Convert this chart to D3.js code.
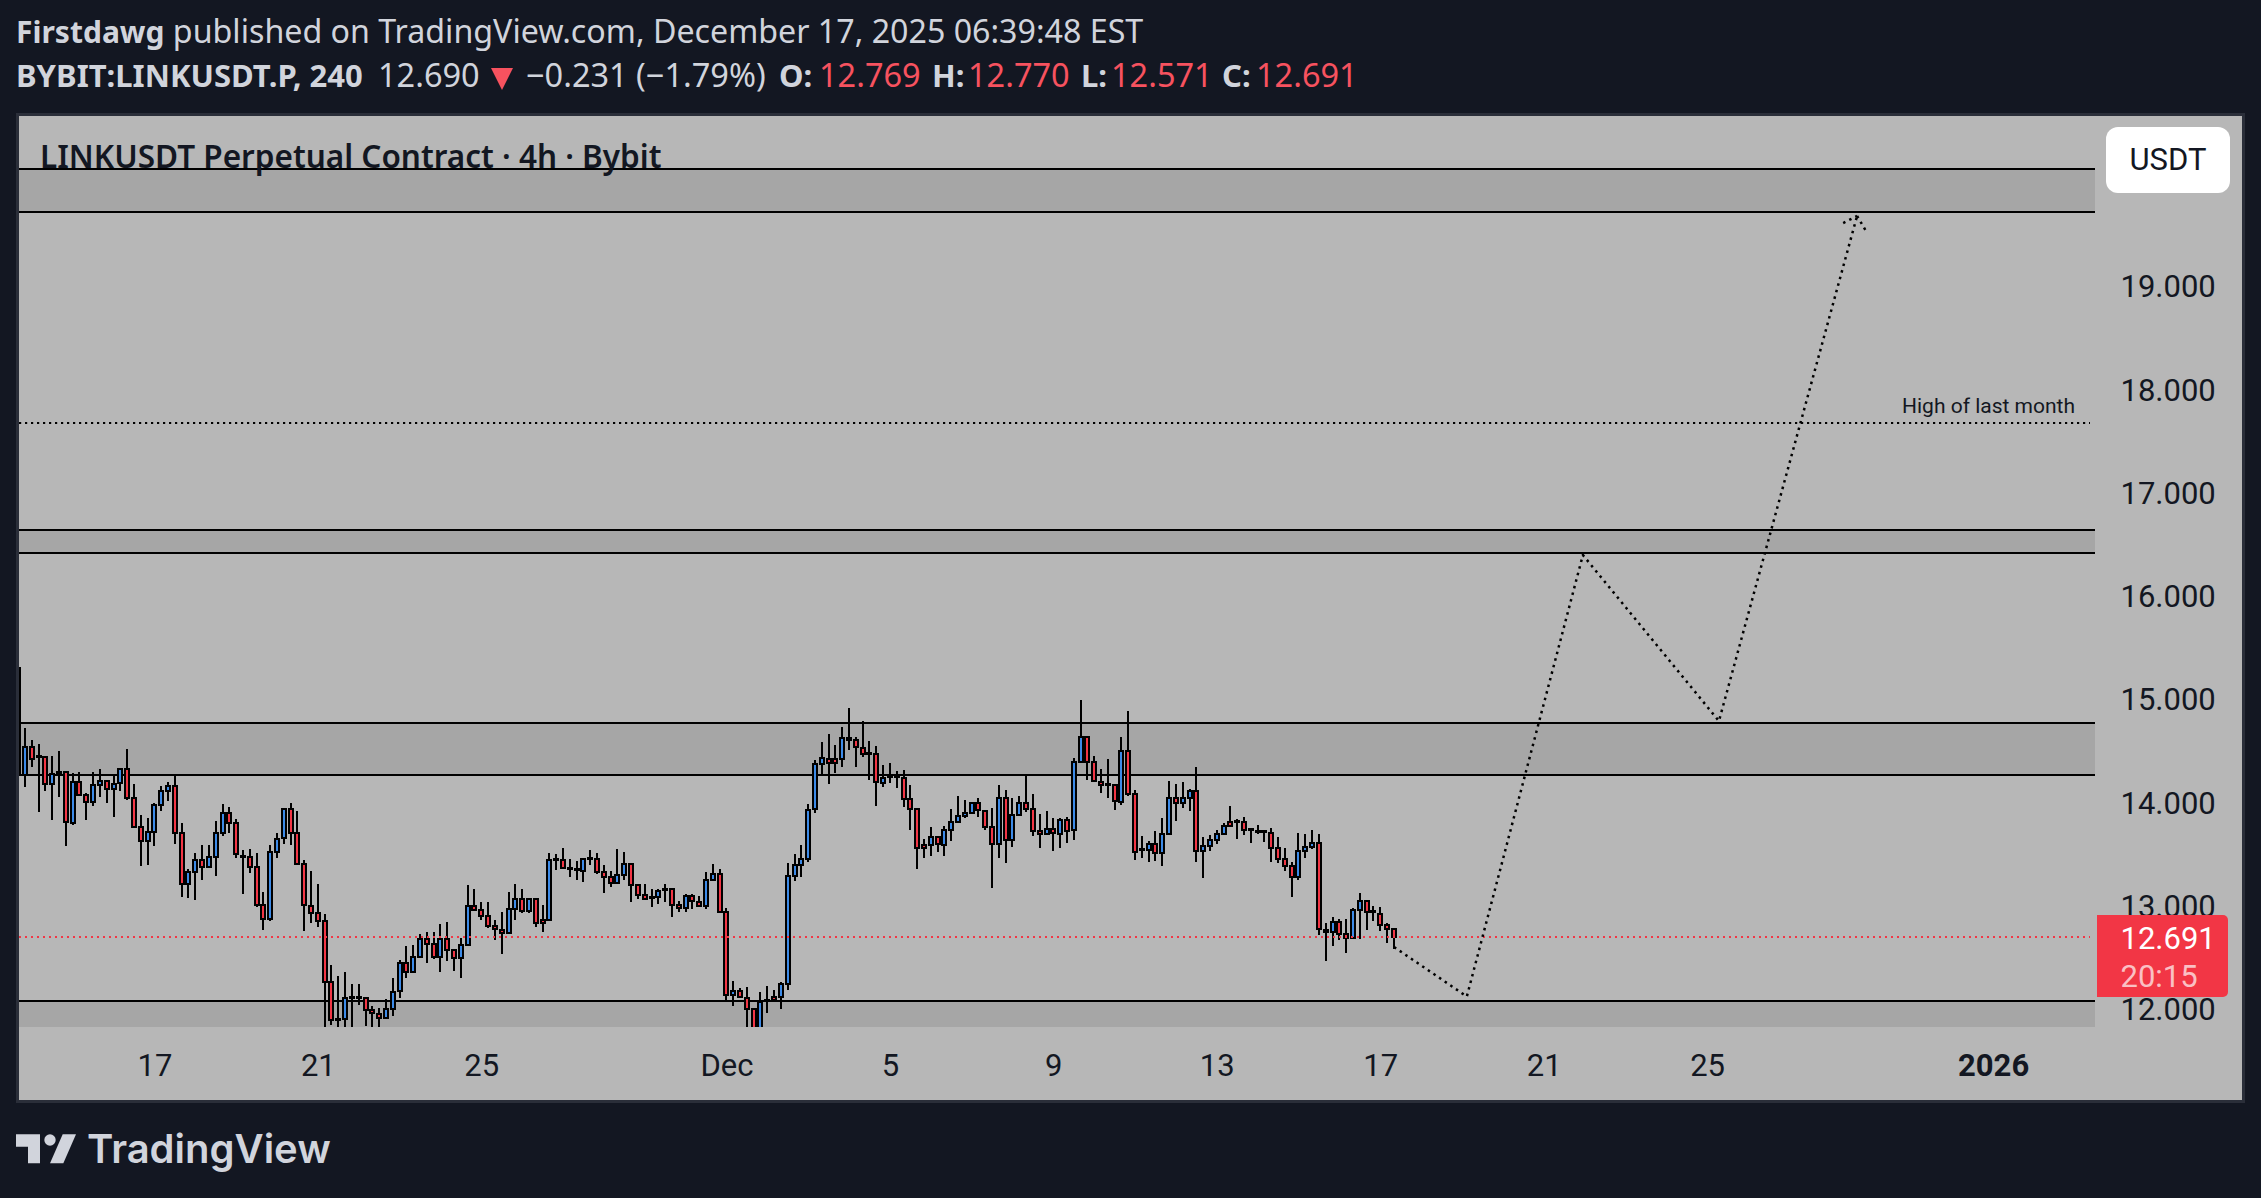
<!DOCTYPE html>
<html><head><meta charset="utf-8">
<script src="https://cdn.jsdelivr.net/npm/d3@7"></script>
<style>html,body{margin:0;padding:0;background:#131722}svg{display:block}</style>
</head><body><div id="c"></div>
<script>
const opens=[15.30,14.26,14.53,14.44,14.43,14.17,14.29,14.29,13.79,14.19,
14.07,14.00,14.16,14.20,14.12,14.18,14.32,14.04,13.76,13.62,
13.71,13.97,14.10,14.15,13.70,13.20,13.32,13.44,13.37,13.47,
13.70,13.89,13.79,13.48,13.47,13.37,13.00,12.87,13.51,13.65,
13.93,13.70,13.40,12.99,12.92,12.85,12.26,11.90,11.90,12.11,
12.11,12.10,11.98,11.95,11.91,11.99,12.17,12.44,12.35,12.50,
12.67,12.62,12.50,12.67,12.57,12.49,12.61,12.99,12.95,12.89,
12.80,12.76,12.73,12.96,13.06,12.94,13.06,12.86,12.86,13.45,
13.44,13.36,13.35,13.33,13.46,13.45,13.32,13.27,13.21,13.29,
13.40,13.19,13.10,13.08,13.08,13.16,13.16,13.00,12.97,13.09,
13.03,12.99,13.24,13.30,12.93,12.13,12.17,12.10,11.99,11.78,
12.08,12.11,12.11,12.24,13.28,13.39,13.45,13.93,14.37,14.41,
14.41,14.41,14.62,14.60,14.52,14.47,14.46,14.18,14.25,14.25,
14.23,14.03,13.93,13.58,13.58,13.66,13.58,13.73,13.80,13.86,
13.89,13.99,13.91,13.76,13.59,14.04,13.63,13.87,13.99,13.93,
13.72,13.69,13.74,13.69,13.82,13.73,14.39,14.63,14.39,14.19,
14.17,14.16,14.00,14.49,14.08,13.54,13.53,13.59,13.50,13.69,
14.04,13.99,14.04,14.10,13.52,13.57,13.63,13.69,13.80,13.81,
13.80,13.74,13.72,13.72,13.70,13.55,13.45,13.38,13.27,13.52,
13.56,13.60,12.76,12.74,12.84,12.72,12.68,12.95,13.04,12.94,
12.91,12.81,12.769];
const highs=[15.30,14.71,14.60,14.56,14.43,14.44,14.49,14.29,14.28,14.29,
14.09,14.29,14.32,14.21,14.26,14.32,14.51,14.17,13.87,13.84,
13.99,14.15,14.19,14.26,13.79,13.35,13.50,13.58,13.58,13.81,
13.98,13.95,13.83,13.53,13.54,13.50,13.13,13.58,13.70,13.93,
13.99,13.91,13.44,13.33,13.20,12.91,12.42,12.31,12.35,12.24,
12.24,12.11,12.02,12.00,12.09,12.29,12.47,12.60,12.61,12.72,
12.74,12.74,12.82,12.84,12.57,12.68,13.19,13.16,13.03,13.03,
12.86,12.93,13.13,13.20,13.16,13.06,13.07,13.00,13.50,13.49,
13.55,13.45,13.43,13.46,13.53,13.50,13.39,13.33,13.54,13.51,
13.40,13.20,13.20,13.16,13.16,13.20,13.17,13.04,13.11,13.11,
13.09,13.32,13.40,13.35,12.97,12.27,12.20,12.21,11.99,12.16,
12.22,12.18,12.26,13.41,13.49,13.58,13.98,14.40,14.58,14.66,
14.55,14.72,14.91,14.63,14.78,14.59,14.54,14.36,14.38,14.30,
14.31,14.16,13.94,13.64,13.76,13.67,13.77,13.93,14.06,14.02,
13.99,14.04,13.92,13.94,14.16,14.11,14.04,14.06,14.27,14.08,
13.88,13.91,13.84,13.84,13.85,14.42,14.99,14.63,14.44,14.32,
14.41,14.17,14.63,14.88,14.11,13.67,13.62,13.72,13.84,14.20,
14.17,14.19,14.12,14.34,13.66,13.68,13.73,13.79,13.96,13.83,
13.85,13.74,13.78,13.72,13.75,13.66,13.55,13.42,13.70,13.69,
13.73,13.69,12.83,12.88,12.87,12.87,12.97,13.12,13.05,12.99,
12.98,12.83,12.770];
const lows=[14.26,14.14,14.34,13.90,14.10,13.82,14.05,13.57,13.78,14.06,
13.82,13.96,14.05,13.99,13.85,14.10,14.02,13.75,13.38,13.39,
13.57,13.91,14.01,13.59,13.08,13.07,13.05,13.24,13.37,13.28,
13.67,13.70,13.46,13.11,13.31,12.98,12.76,12.85,13.46,13.59,
13.58,13.39,12.75,12.83,12.79,11.70,11.84,11.75,11.75,11.75,
12.03,11.83,11.82,11.78,11.91,11.93,12.10,12.29,12.35,12.49,
12.44,12.48,12.35,12.46,12.36,12.29,12.60,12.95,12.86,12.78,
12.66,12.53,12.73,12.86,12.92,12.92,12.79,12.74,12.86,13.34,
13.35,13.27,13.24,13.22,13.39,13.30,13.12,13.18,13.21,13.24,
13.03,13.06,13.05,12.98,13.01,13.03,12.88,12.93,12.93,12.96,
12.98,12.96,13.24,12.93,12.08,12.02,12.11,11.75,11.75,11.75,
11.96,12.08,11.99,12.18,13.23,13.27,13.42,13.89,14.26,14.17,
14.28,14.34,14.50,14.34,14.43,14.21,13.96,14.14,14.18,14.13,
13.95,13.73,13.35,13.46,13.48,13.51,13.48,13.62,13.80,13.84,
13.88,13.85,13.73,13.17,13.46,13.41,13.56,13.86,13.90,13.67,
13.55,13.68,13.52,13.55,13.60,13.63,14.39,14.21,14.20,14.09,
14.04,13.92,13.97,14.06,13.44,13.46,13.42,13.43,13.38,13.69,
13.81,13.94,13.91,13.42,13.26,13.52,13.59,13.68,13.77,13.64,
13.68,13.60,13.69,13.61,13.42,13.41,13.33,13.08,13.24,13.46,
13.54,12.71,12.46,12.60,12.66,12.54,12.67,12.67,12.76,12.85,
12.75,12.63,12.571];
const closes=[14.26,14.53,14.41,14.43,14.17,14.27,14.28,13.80,14.19,14.07,
14.00,14.16,14.20,14.12,14.17,14.32,14.04,13.76,13.62,13.71,
13.97,14.10,14.15,13.70,13.20,13.32,13.44,13.37,13.47,13.70,
13.89,13.79,13.49,13.47,13.37,13.00,12.87,13.51,13.64,13.93,
13.70,13.40,13.00,12.92,12.85,12.26,11.89,11.89,12.10,12.10,
12.10,11.98,11.96,11.91,11.99,12.16,12.44,12.35,12.50,12.67,
12.62,12.50,12.67,12.57,12.49,12.61,12.99,12.95,12.89,12.80,
12.77,12.73,12.96,13.06,12.94,13.06,12.83,12.83,13.44,13.44,
13.36,13.35,13.34,13.45,13.45,13.32,13.27,13.21,13.29,13.40,
13.19,13.10,13.06,13.07,13.14,13.15,13.00,12.97,13.09,13.04,
12.99,13.24,13.30,12.93,12.13,12.17,12.11,11.99,11.78,12.06,
12.07,12.08,12.24,13.28,13.39,13.45,13.92,14.37,14.42,14.38,
14.38,14.62,14.60,14.53,14.46,14.46,14.19,14.23,14.24,14.24,
14.03,13.93,13.55,13.55,13.66,13.59,13.73,13.80,13.86,13.89,
13.99,13.92,13.76,13.59,14.04,13.63,13.87,13.99,13.93,13.72,
13.69,13.74,13.70,13.82,13.72,14.39,14.63,14.39,14.20,14.16,
14.16,14.01,14.49,14.08,13.51,13.53,13.59,13.50,13.69,14.04,
13.99,14.04,14.10,13.52,13.57,13.63,13.69,13.77,13.77,13.80,
13.73,13.73,13.71,13.71,13.55,13.45,13.38,13.27,13.52,13.56,
13.60,12.77,12.74,12.84,12.72,12.68,12.95,13.04,12.93,12.93,
12.81,12.77,12.691];
const firstBar=Date.UTC(2025,10,13,16);
const barHours=4;
const zoneTops=[20.126,16.635,14.763,12.07];
const zoneBottoms=[19.709,16.41,14.259,11.60];
const monthHigh=17.67;
const lastClose=12.691;
const priceTicks=[12,13,14,15,16,17,18,19];
const timeTicks=[[2025,10,17],[2025,10,21],[2025,10,25],[2025,11,1],[2025,11,5],[2025,11,9],[2025,11,13],[2025,11,17],[2025,11,21],[2025,11,25],[2026,0,1]];
const timeLabels=["17","21","25","Dec","5","9","13","17","21","25","2026"];
const planDays=[30.34,32.12,34.96,38.29,41.67];
const planPrices=[12.594,12.115,16.389,14.782,19.671];
const arrowLeftDays=[41.33,41.67];
const arrowLeftPrices=[19.603,19.671];
const arrowRightDays=[41.67,41.89];
const arrowRightPrices=[19.671,19.525];
const headerA=["Firstdawg"," published on TradingView.com, December 17, 2025 06:39:48 EST"];

const W=2261,H=1198;
const DARK="#131722",PANE="#b7b7b7",ZONE="#a6a6a6",RED="#f23645",BLUE="#3d8be8",INK="#131722",HEAD="#d1d4dc",HRED="#f7525f";
const P={l:19,t:116,r:2095,b:1027,R:2242,B:1100};
const svg=d3.select("#c").append("svg").attr("width",W).attr("height",H).attr("viewBox",`0 0 ${W} ${H}`);
svg.append("rect").attr("width",W).attr("height",H).attr("fill",DARK);
svg.append("rect").attr("x",P.l-3).attr("y",P.t-3).attr("width",P.R-P.l+6).attr("height",P.B-P.t+6).attr("fill","#2a2e39");
svg.append("rect").attr("x",P.l).attr("y",P.t).attr("width",P.R-P.l).attr("height",P.B-P.t).attr("fill",PANE);
svg.append("clipPath").attr("id","pane").append("rect").attr("x",P.l).attr("y",P.t).attr("width",P.r-P.l).attr("height",P.b-P.t);

const day=864e5, t0=Date.UTC(2025,10,17);
const x=d3.scaleUtc().domain([new Date(t0),new Date(Date.UTC(2025,11,25))]).range([154.4,1707.1]);
const y=d3.scaleLinear().domain([12,19]).range([1008.4,285.3]);
const rd=v=>Math.round(v);
const plot=svg.append("g").attr("clip-path","url(#pane)");

// zones
const zones=plot.append("g").selectAll("g").data(zoneTops.map((t,i)=>[t,zoneBottoms[i]])).join("g");
zones.append("rect").attr("x",P.l).attr("width",P.r-P.l).attr("y",d=>rd(y(d[0]))).attr("height",d=>rd(y(d[1]))-rd(y(d[0]))).attr("fill",ZONE);
zones.selectAll("line").data(d=>d).join("line").attr("x1",P.l).attr("x2",P.r).attr("y1",d=>rd(y(d))).attr("y2",d=>rd(y(d))).attr("stroke","#000").attr("stroke-width",2);

// candles
const bars=opens.map((o,i)=>({t:new Date(firstBar+i*barHours*36e5),o,h:highs[i],l:lows[i],c:closes[i]}));
const cg=plot.append("g").attr("shape-rendering","crispEdges");
cg.selectAll("line").data(bars).join("line")
 .attr("x1",d=>rd(x(d.t))).attr("x2",d=>rd(x(d.t))).attr("y1",d=>y(d.h)).attr("y2",d=>y(d.l)).attr("stroke","#000").attr("stroke-width",2);
cg.selectAll("rect").data(bars).join("rect")
 .attr("x",d=>rd(x(d.t))-2).attr("width",4)
 .attr("y",d=>rd(y(Math.max(d.o,d.c))))
 .attr("height",d=>Math.max(0.01,rd(y(Math.min(d.o,d.c)))-rd(y(Math.max(d.o,d.c)))))
 .attr("fill",d=>d.c>d.o?BLUE:RED).attr("stroke","#000").attr("stroke-width",2);

// month high
plot.append("line").attr("x1",P.l).attr("x2",2090).attr("y1",rd(y(monthHigh))).attr("y2",rd(y(monthHigh))).attr("stroke","#000").attr("stroke-width",2.2).attr("stroke-dasharray","2.2 3.8");
// last price line
plot.append("line").attr("x1",P.l).attr("x2",2090).attr("y1",rd(y(lastClose))).attr("y2",rd(y(lastClose))).attr("stroke",RED).attr("stroke-width",2).attr("stroke-dasharray","2 4");
// plan path
const dx=d=>x(new Date(t0+d*day));
const ln=d3.line().x(d=>dx(d[0])).y(d=>y(d[1]));
const dotted=(ds,ps)=>plot.append("path").attr("d",ln(ds.map((d,i)=>[d,ps[i]]))).attr("fill","none").attr("stroke","#000").attr("stroke-width",2.5).attr("stroke-dasharray","2.5 4.3");
dotted(planDays,planPrices);
dotted(arrowLeftDays,arrowLeftPrices);
dotted(arrowRightDays,arrowRightPrices);

// axes
const fam="Roboto,sans-serif";
const ya=svg.append("g").attr("transform",`translate(${P.r},0)`)
 .call(d3.axisRight(y).tickValues(priceTicks).tickSize(0).tickPadding(25.5).tickFormat(d3.format(".3f")));
ya.select(".domain").remove();
ya.selectAll("text").attr("font-family",fam).attr("font-size",31).attr("fill",INK).attr("dy","0.37em");
const xa=svg.append("g").attr("transform",`translate(0,${P.b})`)
 .call(d3.axisBottom(x).tickValues(timeTicks.map(a=>new Date(Date.UTC(a[0],a[1],a[2])))).tickSize(0).tickPadding(26.5).tickFormat((d,i)=>timeLabels[i]));
xa.select(".domain").remove();
xa.selectAll("text").attr("font-family",fam).attr("font-size",31).attr("fill",INK).attr("font-weight",(d,i)=>timeLabels[i]==="2026"?700:400);

// price label
svg.append("path").attr("d","M2097 915H2223a5 5 0 0 1 5 5V992a5 5 0 0 1 -5 5H2097Z").attr("fill",RED);
svg.append("text").attr("x",2120.5).attr("y",949).attr("font-family",fam).attr("font-size",31).attr("fill","#fff").text("12.691");
svg.append("text").attr("x",2120.5).attr("y",987).attr("font-family",fam).attr("font-size",31).attr("fill","#fff").attr("fill-opacity",.7).text("20:15");
// unit button
svg.append("rect").attr("x",2106).attr("y",127).attr("width",124).attr("height",66).attr("rx",12).attr("fill","#fff");
svg.append("text").attr("x",2168).attr("y",170).attr("text-anchor","middle").attr("font-family",fam).attr("font-size",31).attr("fill",INK).text("USDT");
// note
svg.append("text").attr("x",1902).attr("y",413).attr("font-family",fam).attr("font-size",21).attr("fill",INK).text("High of last month");
// chart title
const nf="'Noto Sans',sans-serif";
svg.append("text").attr("x",40).attr("y",168).attr("font-family",nf).attr("font-size",31.5).attr("font-weight",600).attr("fill",INK).text("LINKUSDT Perpetual Contract · 4h · Bybit");
// header
const t1=svg.append("text").attr("x",16).attr("y",43).attr("font-family",nf).attr("fill",HEAD);
t1.append("tspan").attr("font-weight",700).attr("font-size",30).text(headerA[0]);
t1.append("tspan").attr("font-size",32.2).text(headerA[1]);
const seg=(tx,xp,col,w,fs)=>svg.append("text").attr("x",xp).attr("y",87).attr("font-family",nf).attr("font-size",fs).attr("fill",col).attr("font-weight",w).text(tx);
seg("BYBIT:LINKUSDT.P, 240",16,HEAD,700,31);
seg("12.690",378,HEAD,400,32.5);
svg.append("path").attr("d","M491 68H513L502 90Z").attr("fill",HRED);
seg("−0.231 (−1.79%)",526,HEAD,400,32.5);
seg("O:",779,HEAD,700,31);seg("12.769",819,HRED,400,32.5);
seg("H:",932,HEAD,700,31);seg("12.770",968,HRED,400,32.5);
seg("L:",1081,HEAD,700,31);seg("12.571",1111,HRED,400,32.5);
seg("C:",1222,HEAD,700,31);seg("12.691",1256,HRED,400,32.5);
// logo
const lg=svg.append("g").attr("fill","#d1d4dc");
lg.append("path").attr("d","M16 1134.3H40V1163.3H28V1146.7H16Z");
lg.append("circle").attr("cx",50).attr("cy",1140).attr("r",5.7);
lg.append("path").attr("d","M62.7 1134.3H76L63.3 1163.3H50Z");
svg.append("text").attr("x",87).attr("y",1163).attr("font-family","Inter,sans-serif").attr("font-size",40).attr("font-weight",600).attr("fill","#d1d4dc").text("TradingView");
</script></body></html>
